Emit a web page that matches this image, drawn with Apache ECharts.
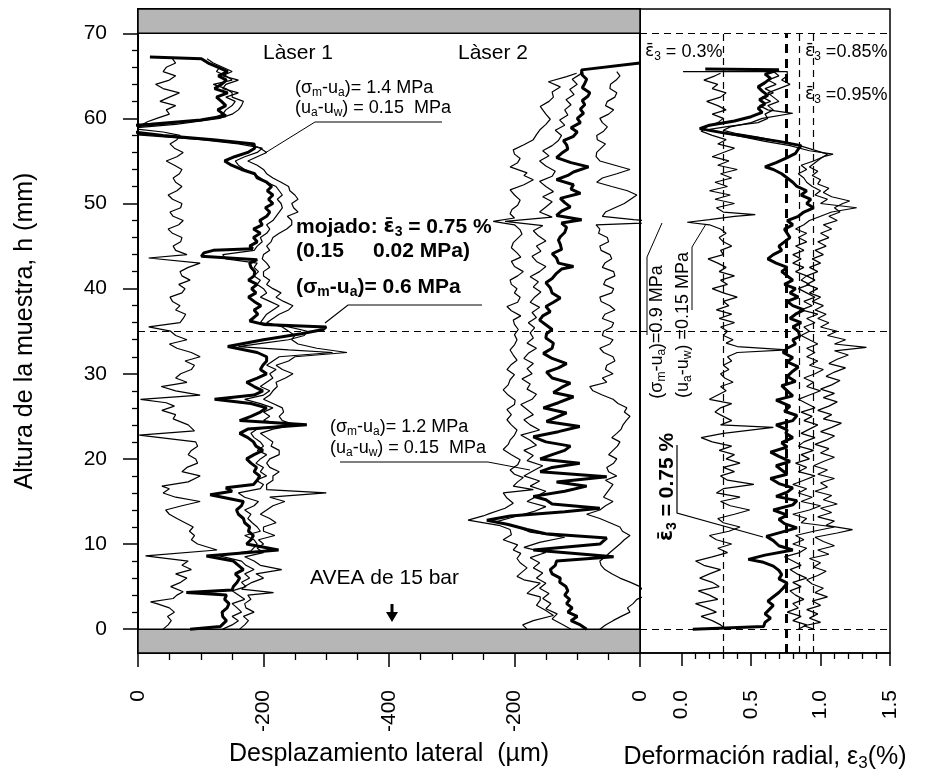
<!DOCTYPE html>
<html><head><meta charset="utf-8">
<script src="https://cdn.jsdelivr.net/npm/echarts@6/dist/echarts.min.js"></script>
<style>html,body{margin:0;padding:0;background:#fff}#c{width:925px;height:778px}</style>
</head><body><div id="c"></div>
<script>
// ---------- tick values / labels ----------
const heightTicks = [0,10,20,30,40,50,60,70];
const heightMinorTicks = [2,4,6,8,12,14,16,18,22,24,26,28,32,34,36,38,42,44,46,48,52,54,56,58,62,64,66,68];
const dispTickValues = [0,200,400,600,800];
const dispTickLabels = ['0','-200','-400','-200','0'];
const radTickValues = [0,0.5,1,1.5];
const radTickLabels = ['0.0','0.5','1.0','1.5'];
const radMinorTicks = [0.1,0.2,0.3,0.4,0.6,0.7,0.8,0.9,1.1,1.2,1.3,1.4];
const meanStrains = [0.3,0.75,0.85,0.95];   // dashed reference lines (%)
const specimenLevels = [0,35,70];          // mm

// ---------- Laser 1 : [height mm, displacement um] ----------
const laser1Thick = [[0,-83],[0.3,-131],[1,-141],[1.5,-135],[2,-134],[2.5,-142],[3,-145],[3.5,-138],[4,-141],[4.3,-77],[4.6,-150],[5,-152],[5.5,-158],[6,-162],[6.5,-155],[7,-168],[7.5,-160],[8,-152],[8.6,-109],[9.3,-224],[10,-173],[10.5,-180],[11,-184],[11.5,-176],[12,-178],[12.5,-170],[13,-168],[13.5,-160],[14,-157],[14.5,-165],[15,-168],[15.8,-115],[16.2,-150],[16.6,-140],[17,-184],[17.5,-190],[18,-194],[18.5,-185],[19,-189],[19.5,-180],[20,-173],[20.5,-185],[21,-199],[21.5,-188],[22,-184],[22.5,-175],[23,-162],[23.5,-175],[24,-269],[24.5,-162],[25,-180],[25.5,-195],[26,-205],[26.5,-180],[27,-122],[27.5,-185],[28,-199],[28.5,-185],[29,-173],[29.5,-190],[30,-205],[30.5,-195],[31,-199],[31.5,-205],[32,-205],[32.5,-190],[33.2,-143],[34,-200],[34.7,-260],[35.2,-295],[35.5,-300],[35.8,-200],[36.2,-178],[37,-191],[37.5,-185],[38,-196],[38.5,-185],[39,-176],[39.5,-188],[40,-181],[40.5,-190],[41,-176],[41.5,-185],[42,-186],[42.5,-180],[43,-178],[43.4,-190],[43.8,-101],[44.2,-105],[44.5,-120],[44.7,-183],[45,-178],[45.5,-190],[46,-184],[46.5,-195],[47,-184],[47.5,-198],[48,-194],[48.5,-205],[49,-210],[49.5,-203],[50,-215],[50.5,-208],[51,-215],[51.5,-206],[52,-213],[52.5,-205],[53,-190],[53.5,-186],[54,-165],[54.5,-149],[55,-138],[55.5,-154],[56,-175],[56.5,-186],[57,-185],[57.5,-120],[58,-40],[58.5,20],[58.9,63],[59.3,-20],[59.8,-100],[60.3,-140],[61,-127],[61.5,-140],[62,-133],[62.5,-125],[63,-143],[63.5,-122],[64,-133],[64.5,-141],[65,-128],[65.5,-143],[66,-128],[66.5,-112],[67,-101],[67.2,-19]];
const laser1Left = [[0,-40],[0.5,-48],[1,-53],[1.5,-47],[2,-58],[2.5,-50],[3,-30],[3.2,-20],[3.6,-56],[4,-62],[4.4,-72],[5,-52],[5.5,-68],[6,-78],[6.5,-60],[7,-85],[7.5,-70],[8,-80],[8.6,-12],[9.3,-126],[10,-95],[10.5,-85],[11,-90],[11.5,-82],[12,-88],[12.5,-75],[13,-62],[13.5,-50],[14,-44],[14.5,-70],[15,-99],[15.5,-60],[16,-40],[16.5,-50],[16.8,-38],[17.3,-80],[18,-99],[18.5,-70],[19,-78],[19.5,-95],[20,-92],[20.5,-80],[21,-85],[21.5,-95],[22,-92],[22.8,-2],[23.3,-90],[24,-80],[24.7,-56],[25.2,-60],[25.7,-38],[26.2,-58],[26.6,-45],[27,-4],[27.5,-99],[28,-60],[28.5,-37],[29,-78],[29.5,-60],[30,-68],[30.5,-85],[31,-90],[31.5,-75],[32,-99],[32.5,-85],[33,-62],[33.5,-50],[34,-78],[34.5,-60],[35,-52],[35.5,-17],[36,-67],[36.5,-72],[37,-76],[37.5,-60],[38,-67],[38.5,-55],[39,-51],[39.5,-70],[40,-75],[40.5,-65],[41,-83],[41.5,-70],[42,-67],[42.5,-80],[43,-99],[43.6,-17],[44,-78],[44.5,-60],[45,-56],[45.5,-68],[46,-70],[46.5,-55],[47,-48],[47.5,-65],[48,-72],[48.5,-56],[49,-51],[49.5,-68],[50,-70],[50.5,-55],[51,-48],[51.5,-62],[52,-70],[52.5,-60],[53,-56],[53.5,-66],[54,-70],[54.5,-58],[55,-45],[55.5,-62],[56,-72],[56.5,-58],[57,-51],[57.5,-62],[58,-67],[58.4,-40],[58.8,10],[59.2,-5],[59.6,-15],[60,-30],[60.5,-50],[61,-45],[61.5,-60],[62,-35],[62.5,-50],[63,-66],[63.5,-40],[64,-28],[64.5,-50],[65,-60],[65.5,-40],[66,-45],[66.5,-60],[67,-55]];
const laser1Right = [[0,-162],[0.5,-170],[1,-176],[1.5,-168],[2,-185],[2.5,-172],[3,-170],[3.5,-180],[4,-175],[4.3,-216],[4.7,-165],[5,-170],[5.5,-182],[6,-200],[6.5,-188],[7,-229],[7.5,-195],[8,-185],[8.5,-170],[9,-200],[9.5,-190],[10,-200],[10.5,-192],[11,-218],[11.5,-200],[12,-200],[12.5,-220],[13,-210],[13.5,-195],[14,-205],[14.5,-215],[15,-234],[15.5,-210],[16,-300],[16.4,-205],[17,-205],[17.5,-215],[18,-215],[18.5,-225],[19,-210],[19.5,-205],[20,-210],[20.5,-225],[21,-225],[21.5,-212],[22,-215],[22.5,-205],[23,-195],[23.5,-215],[24,-250],[24.5,-230],[25,-225],[25.5,-232],[26,-230],[26.5,-215],[27,-200],[27.5,-210],[28,-215],[28.5,-222],[29,-220],[29.5,-235],[30,-247],[30.5,-230],[31,-220],[31.5,-240],[32,-250],[32.5,-333],[33,-285],[33.5,-255],[34,-245],[34.5,-250],[35,-240],[35.5,-230],[36,-205],[36.5,-215],[37,-225],[37.5,-240],[38,-247],[38.5,-232],[39,-220],[39.5,-228],[40,-215],[40.5,-205],[41,-210],[41.5,-200],[42,-200],[42.5,-210],[43,-205],[43.5,-198],[44,-200],[44.5,-210],[45,-205],[45.5,-212],[46,-215],[46.5,-225],[47,-237],[47.5,-245],[48,-245],[48.5,-238],[49,-255],[49.5,-248],[50,-245],[50.5,-255],[51,-250],[51.5,-242],[52,-240],[52.5,-228],[53,-215],[53.5,-205],[54,-200],[54.5,-190],[55,-175],[55.5,-190],[56,-205],[56.5,-195],[57,-175],[57.5,-120],[58,-30],[58.4,60],[58.8,20],[59.3,-60],[60,-130],[60.5,-150],[61,-160],[61.5,-165],[62,-168],[62.5,-150],[63,-150],[63.5,-140],[64,-120],[64.5,-150],[65,-140],[65.5,-125],[66,-130],[66.5,-110],[67,-100]];
const laser1Mid = [[0,-135],[0.5,-150],[1,-160],[1.5,-150],[2,-165],[2.5,-158],[3,-150],[3.5,-170],[4,-160],[4.5,-150],[5,-172],[5.5,-165],[6,-178],[6.5,-170],[7,-185],[7.5,-172],[8,-165],[8.6,-130],[9.2,-180],[10,-190],[10.5,-185],[11,-170],[11.5,-195],[12,-190],[12.5,-182],[13,-175],[13.5,-180],[14,-170],[14.5,-185],[15,-192],[15.5,-170],[16,-160],[16.5,-195],[17,-200],[17.5,-188],[18,-205],[18.5,-195],[19,-200],[19.5,-188],[20,-195],[20.5,-205],[21,-190],[21.5,-200],[22,-195],[22.5,-185],[23,-180],[23.5,-190],[24,-240],[24.5,-200],[25,-210],[25.5,-200],[26,-215],[26.5,-195],[27,-170],[27.5,-200],[28,-210],[28.5,-195],[29,-205],[29.5,-215],[30,-210],[30.5,-220],[31,-205],[31.5,-215],[32,-225],[32.5,-310],[32.8,-240],[33.2,-160],[33.6,-200],[34,-240],[34.5,-265],[35,-270],[35.5,-240],[36,-195],[36.5,-200],[37,-205],[37.5,-215],[38,-225],[38.5,-210],[39,-195],[39.5,-205],[40,-200],[40.5,-190],[41,-195],[41.5,-185],[42,-192],[42.5,-185],[43,-190],[43.5,-140],[44,-135],[44.5,-185],[45,-190],[45.5,-198],[46,-195],[46.5,-205],[47,-210],[47.5,-205],[48,-215],[48.5,-220],[49,-225],[49.5,-230],[50,-228],[50.5,-222],[51,-230],[51.5,-225],[52,-220],[52.5,-205],[53,-195],[53.5,-185],[54,-170],[54.5,-160],[55,-155],[55.5,-170],[56,-190],[56.5,-198],[57,-160],[57.5,-100],[58,-10],[58.4,82],[58.8,40],[59.3,-40],[60,-120],[60.5,-135],[61,-140],[61.5,-150],[62,-155],[62.5,-140],[63,-160],[63.5,-135],[64,-140],[64.5,-160],[65,-135],[65.5,-150],[66,-135],[66.5,-120],[67,-110]];

// ---------- Laser 2 : [height mm, displacement um] ----------
const laser2Right = [[0,-64],[0.5,-55],[1,-43],[1.5,-30],[2,-16],[2.5,-20],[3,-11],[3.5,-5],[4,10],[4.5,5],[5,0],[5.5,-15],[6,-32],[6.5,-45],[7,-56],[7.5,-62],[8,-64],[8.5,-55],[9,-48],[9.5,-40],[10,-32],[10.5,-25],[11,-16],[11.5,-28],[12,-32],[12.5,-48],[13,-64],[13.5,-85],[14,-64],[14.5,-55],[15,-43],[15.5,-58],[16,-53],[16.5,-48],[17,-43],[17.5,-55],[18,-37],[18.5,-50],[19,-53],[19.5,-42],[20,-37],[20.5,-50],[21,-43],[21.5,-36],[22,-32],[22.5,-45],[23,-37],[23.5,-30],[24,-27],[24.5,-22],[25,-16],[25.5,-25],[26,-21],[26.5,-35],[27,-43],[27.5,-60],[28,-75],[28.5,-80],[29,-53],[29.5,-60],[30,-43],[30.5,-55],[31,-53],[31.5,-40],[32,-43],[32.5,-58],[33,-64],[33.5,-48],[34,-43],[34.5,-60],[35,-58],[35.5,-45],[36,-42],[36.5,-60],[37,-56],[37.5,-40],[38,-48],[38.5,-62],[39,-64],[39.5,-45],[40,-42],[40.5,-58],[41,-55],[41.5,-40],[42,-42],[42.5,-60],[43,-56],[43.5,-45],[44,-48],[44.5,-62],[45,-64],[45.5,-50],[46,-52],[46.5,-66],[47,-64],[47.5,-70],[47.8,40],[48.1,-10],[48.5,-60],[49,-55],[49.5,-40],[50,-25],[50.5,-15],[51,-5],[51.5,-20],[52,-45],[52.5,-69],[53,-60],[53.5,-37],[54,-16],[54.5,-40],[55,-64],[55.5,-70],[56,-69],[56.5,-62],[57,-55],[57.5,-68],[58,-69],[58.5,-58],[59,-52],[59.5,-60],[60,-64],[60.5,-50],[61,-42],[61.5,-55],[62,-52],[62.5,-40],[63,-37],[63.5,-48],[64,-47],[64.5,-38],[65,-32],[65.5,-37]];
const laser2Thick = [[0,-85],[0.5,-95],[1,-110],[1.5,-100],[2,-115],[2.5,-108],[3,-117],[3.5,-112],[4,-120],[4.5,-115],[5,-118],[5.5,-128],[6,-127],[6.5,-140],[7,-143],[7.5,-135],[8,-133],[8.5,-42],[9.3,-170],[10,-64],[10.7,-53],[11.2,-150],[11.7,-180],[12.3,-210],[12.8,-244],[13.3,-207],[13.8,-120],[14.2,-64],[14.7,-140],[15.2,-150],[15.6,-170],[16.2,-120],[16.8,-85],[17.3,-133],[17.9,-53],[18.5,-159],[19,-140],[19.5,-96],[20,-159],[20.5,-140],[21,-120],[21.5,-111],[22,-150],[22.6,-170],[23.2,-130],[23.8,-96],[24.4,-149],[25,-130],[25.4,-117],[26,-154],[26.6,-130],[27.3,-106],[27.8,-138],[28.4,-125],[28.9,-111],[29.5,-140],[30.2,-149],[30.7,-130],[31.2,-117],[31.8,-140],[32.4,-154],[33,-140],[33.6,-138],[34.2,-150],[34.7,-149],[35.2,-140],[35.7,-149],[36.3,-160],[36.8,-155],[37.3,-143],[37.9,-150],[38.4,-138],[38.9,-127],[39.5,-140],[40.1,-143],[40.7,-150],[41.2,-140],[41.8,-133],[42.3,-125],[42.6,-106],[43,-130],[43.6,-133],[44.1,-140],[44.6,-125],[45.2,-127],[45.7,-130],[46.1,-127],[46.6,-120],[47.2,-117],[47.7,-125],[48.1,-93],[48.6,-133],[49.1,-125],[49.6,-111],[50.1,-120],[50.6,-127],[51.2,-95],[51.7,-110],[52.2,-106],[52.8,-133],[53.3,-115],[53.7,-106],[54.3,-82],[54.8,-110],[55.4,-133],[55.9,-125],[56.4,-115],[56.9,-117],[57.4,-122],[57.9,-106],[58.4,-100],[58.9,-110],[59.5,-95],[60,-100],[60.6,-90],[61.1,-95],[61.6,-88],[62.1,-92],[62.6,-83],[63,-80],[63.6,-92],[64.1,-88],[64.6,-85],[65.1,-92],[65.7,-93],[66.5,0]];
const laser2Left = [[0,-180],[0.5,-187],[1,-170],[1.6,-138],[2.2,-150],[2.8,-165],[3.4,-159],[3.8,-159],[4.2,-180],[4.7,-172],[5.4,-159],[5.8,-185],[6.2,-196],[6.7,-188],[7.2,-180],[7.8,-191],[8.3,-196],[8.9,-190],[9.3,-202],[9.9,-195],[10.5,-218],[11.1,-205],[11.7,-207],[12.2,-225],[12.8,-274],[13.3,-250],[13.6,-239],[14.2,-215],[14.8,-202],[15.4,-212],[16,-218],[16.4,-170],[16.8,-202],[17.3,-195],[17.8,-186],[18.2,-200],[18.7,-207],[19.3,-195],[19.9,-191],[20.5,-205],[21.1,-218],[21.7,-210],[22.2,-207],[22.8,-200],[23.4,-196],[24,-205],[24.6,-212],[25.2,-205],[25.8,-212],[26.4,-200],[26.9,-199],[27.5,-210],[28.1,-218],[28.7,-210],[29.3,-207],[29.9,-200],[30.5,-212],[31.1,-205],[31.6,-196],[32.2,-202],[32.8,-207],[33.4,-200],[34,-196],[34.6,-200],[35.2,-194],[35.8,-200],[36.3,-202],[36.8,-190],[37.4,-205],[37.9,-212],[38.4,-195],[39,-191],[39.5,-200],[40,-196],[40.5,-205],[41,-207],[41.5,-195],[42,-186],[42.6,-200],[43.2,-205],[43.7,-190],[44.2,-196],[44.8,-205],[45.4,-202],[45.9,-195],[46.4,-188],[46.9,-191],[47.5,-200],[47.9,-234],[48.3,-200],[48.8,-207],[49.3,-204],[49.8,-195],[50.4,-191],[51,-200],[51.6,-207],[52.2,-185],[52.8,-170],[53.3,-185],[53.6,-180],[54.3,-207],[54.8,-195],[55.3,-191],[55.8,-200],[56.3,-202],[56.9,-185],[57.5,-170],[58.1,-165],[58.7,-159],[59.3,-150],[59.9,-143],[60.5,-150],[61,-155],[61.4,-159],[62,-145],[62.5,-138],[63.1,-140],[63.7,-127],[64.3,-146],[64.9,-117],[65.3,-101]];
const laser2Mid = [[0,-110],[0.6,-125],[1.2,-140],[1.8,-132],[2.4,-150],[3,-142],[3.6,-155],[4.2,-145],[4.8,-160],[5.4,-150],[6,-165],[6.6,-155],[7.2,-170],[7.8,-160],[8.4,-175],[9,-150],[9.6,-185],[10.2,-160],[10.8,-120],[11.4,-175],[12,-195],[12.6,-230],[13.2,-200],[13.8,-170],[14.4,-150],[15,-180],[15.6,-165],[16.2,-150],[16.8,-175],[17.4,-160],[18,-185],[18.6,-170],[19.2,-155],[19.8,-180],[20.4,-170],[21,-185],[21.6,-165],[22.2,-175],[22.8,-190],[23.4,-160],[24,-175],[24.6,-185],[25.2,-170],[25.8,-180],[26.4,-190],[27,-172],[27.6,-165],[28.2,-180],[28.8,-175],[29.4,-188],[30,-172],[30.6,-180],[31.2,-170],[31.8,-185],[32.4,-178],[33,-165],[33.6,-180],[34.2,-170],[34.8,-175],[35.4,-168],[36,-178],[36.6,-165],[37.2,-172],[37.8,-160],[38.4,-175],[39,-168],[39.6,-158],[40.2,-170],[40.8,-162],[41.4,-175],[42,-160],[42.6,-150],[43.2,-165],[43.8,-172],[44.4,-158],[45,-165],[45.6,-150],[46.2,-162],[46.8,-170],[47.4,-155],[47.9,-215],[48.4,-140],[49,-160],[49.6,-150],[50.2,-140],[50.8,-155],[51.4,-138],[52,-150],[52.6,-160],[53.2,-140],[53.8,-135],[54.4,-150],[55,-160],[55.6,-145],[56.2,-155],[56.8,-140],[57.4,-130],[58,-125],[58.6,-135],[59.2,-120],[59.8,-128],[60.4,-115],[61,-120],[61.6,-110],[62.2,-118],[62.8,-105],[63.4,-112],[64,-100],[64.6,-108],[65.2,-95],[65.7,-93]];

// ---------- Radial strain : [height mm, strain %] ----------
const radialLeft = [[0,0.32],[0.5,0.28],[1,0.22],[1.5,0.14],[2,0.25],[2.5,0.18],[3,0.1],[3.5,0.26],[4,0.2],[4.5,0.12],[5,0.27],[5.5,0.22],[6,0.13],[6.5,0.2],[7,0.28],[7.5,0.16],[8,0.1],[8.5,0.22],[9,0.33],[9.5,0.26],[10,0.36],[10.5,0.25],[11,0.2],[11.5,0.34],[12,0.42],[12.5,0.3],[13,0.26],[13.5,0.38],[14,0.49],[14.5,0.35],[15,0.28],[15.5,0.42],[16,0.25],[16.5,0.3],[17,0.52],[17.5,0.33],[18,0.28],[18.5,0.38],[19,0.3],[19.5,0.42],[20,0.32],[20.5,0.38],[21,0.27],[21.5,0.36],[22,0.22],[22.5,0.14],[23,0.3],[23.7,0.66],[24,0.28],[24.5,0.36],[25,0.3],[25.5,0.24],[26,0.28],[26.5,0.36],[27,0.2],[27.5,0.26],[28,0.32],[28.5,0.28],[29,0.37],[29.5,0.31],[30,0.28],[30.5,0.34],[31,0.3],[31.5,0.36],[32,0.33],[32.5,0.4],[32.8,0.76],[33.2,0.4],[33.6,0.32],[34,0.37],[34.5,0.3],[35,0.33],[35.5,0.28],[36,0.38],[36.5,0.27],[37,0.36],[37.5,0.25],[38,0.34],[38.5,0.3],[39,0.4],[39.5,0.3],[40,0.22],[40.5,0.33],[41,0.28],[41.5,0.38],[42,0.27],[42.5,0.32],[43,0.26],[43.5,0.19],[44,0.3],[44.5,0.28],[45,0.36],[45.5,0.3],[46,0.27],[46.5,0.32],[47,0.28],[47.5,0.2],[47.8,0.04],[48.1,0.2],[48.5,0.38],[48.7,0.53],[49,0.3],[49.5,0.25],[50,0.38],[50.5,0.24],[51,0.35],[51.5,0.2],[52,0.33],[52.5,0.24],[53,0.36],[53.5,0.28],[54,0.4],[54.5,0.26],[55,0.34],[55.5,0.22],[56,0.3],[56.5,0.38],[57,0.26],[57.5,0.32],[58,0.22],[58.5,0.14],[59,0.18],[59.5,0.26],[60,0.3],[60.5,0.22],[61,0.32],[61.5,0.26],[62,0.18],[62.5,0.28],[63,0.32],[63.5,0.22],[64,0.26],[64.5,0.16],[65,0.24],[65.3,0.28]];
const radialThick = [[0,0.08],[0.3,0.59],[0.8,0.6],[1.3,0.64],[1.8,0.6],[2.3,0.63],[2.8,0.66],[3.3,0.62],[3.8,0.66],[4.3,0.7],[4.8,0.73],[5.4,0.76],[5.9,0.7],[6.4,0.72],[6.9,0.7],[7.4,0.66],[7.9,0.58],[8.2,0.48],[8.7,0.6],[9.3,0.8],[9.8,0.7],[10.4,0.66],[10.9,0.61],[11.4,0.72],[11.9,0.83],[12.4,0.74],[12.9,0.7],[13.4,0.76],[14,0.66],[14.6,0.8],[15.1,0.83],[15.6,0.68],[16.1,0.76],[16.6,0.8],[17.1,0.7],[17.7,0.64],[18.2,0.76],[18.7,0.72],[19.2,0.68],[19.7,0.78],[20.3,0.7],[20.8,0.64],[21.4,0.76],[21.9,0.72],[22.5,0.8],[23,0.75],[23.4,0.76],[24,0.68],[24.5,0.8],[25.1,0.83],[25.6,0.74],[26.2,0.78],[26.9,0.68],[27.4,0.8],[28,0.76],[28.6,0.72],[29.1,0.82],[29.7,0.76],[30.3,0.8],[30.8,0.84],[31.4,0.76],[31.9,0.8],[32.5,0.73],[33,0.76],[33.5,0.82],[34,0.8],[34.4,0.85],[35,0.84],[35.5,0.8],[36,0.86],[36.5,0.78],[37,0.82],[37.5,0.88],[38,0.8],[38.5,0.76],[39,0.84],[39.5,0.78],[40,0.82],[40.5,0.74],[41,0.8],[41.5,0.76],[42,0.72],[42.5,0.76],[43,0.68],[43.5,0.62],[44,0.66],[44.5,0.72],[45,0.7],[45.5,0.74],[46,0.78],[46.5,0.76],[47,0.74],[47.5,0.8],[48,0.76],[48.5,0.84],[49,0.88],[49.5,0.95],[50,0.9],[50.5,0.93],[51,0.86],[51.5,0.9],[52,0.83],[52.5,0.8],[53,0.76],[53.5,0.72],[54,0.66],[54.3,0.6],[54.8,0.68],[55.4,0.76],[55.9,0.82],[56.4,0.84],[56.8,0.86],[57.3,0.7],[57.8,0.5],[58.3,0.3],[58.8,0.13],[59.2,0.2],[59.7,0.38],[60.2,0.5],[60.7,0.58],[61.2,0.55],[61.7,0.6],[62.2,0.56],[62.7,0.62],[63.2,0.58],[63.7,0.55],[64.2,0.6],[64.7,0.64],[65.2,0.6],[65.7,0.7],[65.8,0.17]];
const radialMid = [[0,0.84],[0.5,0.9],[1,0.8],[1.5,0.86],[2,0.76],[2.5,0.84],[3,0.8],[3.5,0.88],[4,0.82],[4.5,0.78],[5,0.86],[5.5,0.8],[6,0.9],[6.5,0.83],[7,0.78],[7.5,0.86],[8,0.8],[8.5,0.74],[9,0.85],[9.5,0.9],[10,0.8],[10.5,0.88],[11,0.82],[11.5,0.95],[12,1.1],[12.5,0.86],[13,0.9],[13.5,0.8],[14,0.92],[14.5,1.0],[15,0.86],[15.5,0.94],[16,0.84],[16.5,0.9],[17,0.8],[17.5,0.88],[18,0.96],[18.5,0.84],[19,0.9],[19.5,0.82],[20,0.92],[20.5,0.86],[21,0.95],[21.5,0.84],[22,0.88],[22.5,0.96],[23,0.86],[23.5,0.92],[24,0.98],[24.5,0.88],[25,0.94],[25.5,0.86],[26,0.96],[26.5,0.9],[27,0.84],[27.5,0.92],[28,1.0],[28.5,0.9],[29,0.95],[29.5,0.88],[30,0.96],[30.5,1.02],[31,0.92],[31.5,0.98],[32,0.9],[32.5,0.96],[33,0.9],[33.5,0.98],[34,0.92],[34.5,0.86],[35,0.92],[35.5,0.88],[36,0.96],[36.5,0.9],[37,0.98],[37.5,0.86],[38,0.94],[38.5,0.88],[39,0.96],[39.5,0.9],[40,0.84],[40.5,0.92],[41,0.86],[41.5,0.9],[42,0.82],[42.5,0.88],[43,0.8],[43.5,0.86],[44,0.8],[44.5,0.88],[45,0.82],[45.5,0.9],[46,0.84],[46.5,0.9],[47,0.82],[47.5,0.88],[48,0.92],[48.5,1.0],[49,1.08],[49.5,1.26],[50,1.0],[50.5,1.05],[51,0.96],[51.5,1.0],[52,0.94],[52.5,0.9],[53,0.88],[53.5,0.84],[54,0.9],[54.5,0.86],[55,0.95],[55.5,1.02],[55.8,1.09],[56.2,0.92],[56.8,0.78],[57.3,0.6],[57.8,0.45],[58.3,0.3],[58.7,0.2],[59.1,0.35],[59.5,0.55],[60,0.62],[60.5,0.6],[61,0.66],[61.5,0.62],[62,0.7],[62.5,0.66],[63,0.62],[63.5,0.7],[64,0.78],[64.5,0.72],[65,0.76],[65.5,0.76],[65.5,0.01]];
const radialRight = [[0,0.95],[0.4,0.88],[0.8,1.0],[1.3,0.92],[1.8,0.98],[2.3,0.9],[2.8,1.0],[3.3,0.94],[3.8,1.05],[4.3,0.96],[4.8,1.02],[5.3,0.94],[5.8,0.9],[6.3,0.98],[6.8,1.04],[7.3,0.95],[7.8,1.0],[8.3,0.92],[8.8,1.06],[9.3,0.98],[9.8,1.1],[10.3,1.02],[10.8,0.96],[11.3,1.12],[11.7,1.23],[12.2,1.04],[12.7,1.1],[13.2,0.98],[13.7,1.08],[14.2,1.0],[14.7,1.12],[15.2,1.02],[15.7,1.08],[16.2,0.96],[16.7,1.05],[17.2,1.0],[17.7,1.1],[18.2,0.98],[18.7,1.05],[19.2,0.95],[19.7,1.02],[20.2,1.1],[20.7,1.0],[21.2,1.06],[21.7,0.96],[22.2,1.04],[22.7,1.1],[23.2,1.0],[23.7,1.08],[24.2,1.15],[24.7,1.02],[25.2,1.08],[25.7,0.98],[26.2,1.06],[26.7,1.12],[27.2,1.02],[27.7,1.1],[28.2,1.0],[28.7,1.08],[29.2,1.14],[29.7,1.04],[30.2,1.1],[30.7,1.18],[31.2,1.06],[31.7,1.12],[32.2,1.2],[32.7,1.1],[33.1,1.33],[33.5,1.1],[34,1.18],[34.5,1.05],[35,1.12],[35.5,1.0],[36,1.06],[36.5,0.98],[37,1.04],[37.5,0.96],[38,1.02],[38.5,0.94],[39,1.0],[39.5,0.92],[40,0.98],[40.5,0.9],[41,0.96],[41.5,0.9],[42,0.98],[42.5,0.92],[43,1.0],[43.5,0.94],[44,1.02],[44.5,0.96],[45,1.04],[45.5,0.98],[46,1.06],[46.5,1.0],[47,1.08],[47.5,1.02],[48,1.12],[48.5,1.06],[49,1.14],[49.5,1.1],[50,1.16],[50.3,1.21],[50.8,1.08],[51.3,1.02],[51.8,1.06],[52.3,0.98],[52.8,1.0],[53.3,0.94],[53.8,0.98],[54.3,0.92],[54.8,0.96],[55.3,1.0],[55.8,1.05],[56.3,0.95],[56.8,0.85],[57.3,0.7],[57.8,0.55],[58.2,0.4],[58.6,0.3],[59,0.35],[59.5,0.5],[60,0.58],[60.6,0.8],[61,0.62],[61.5,0.56],[62,0.64],[62.5,0.58],[63,0.66],[63.5,0.6],[64,0.68],[64.5,0.62],[65,0.7],[65.5,0.66]];

// ---------- chart ----------
const FONT = 'Liberation Sans, Arial, Helvetica, sans-serif';
const GREEKFONT = 'DejaVu Sans, Liberation Sans, sans-serif';
const BLACK = '#000';
const YMIN = -2.8, YMAX = 72.85;
const L2_OFFSET = 800; // laser 2 zero sits at right end of the shared displacement axis

const toL1 = d => d.map(p => [-p[1], p[0]]);
const toL2 = d => d.map(p => [L2_OFFSET + p[1], p[0]]);
const toR = d => d.map(p => [p[1], p[0]]);

function lineSeries(data, x, y, w, z) {
  return { type: 'line', xAxisIndex: x, yAxisIndex: y, data: data, symbol: 'none', showSymbol: false,
    clip: false, silent: true, z: z || 3, animation: false,
    lineStyle: { color: BLACK, width: w } };
}

const sub = { fontSize: 12, lineHeight: 12, verticalAlign: 'bottom', fill: BLACK, fontFamily: FONT };
const nrm = { fontSize: 18, lineHeight: 22, verticalAlign: 'middle', fill: BLACK, fontFamily: FONT };
const eps = { fontSize: 17, lineHeight: 22, verticalAlign: 'middle', fill: BLACK, fontFamily: GREEKFONT };
const bold = { fontSize: 21, lineHeight: 24, fontWeight: 'bold', verticalAlign: 'middle', fill: BLACK, fontFamily: FONT };
const boldEps = { fontSize: 20, lineHeight: 24, fontWeight: 'bold', verticalAlign: 'middle', fill: BLACK, fontFamily: GREEKFONT };
const boldSub = { fontSize: 14, lineHeight: 14, fontWeight: 'bold', verticalAlign: 'bottom', fill: BLACK, fontFamily: FONT };
const richSmall = { n: nrm, s: sub, e: eps };
const richBold = { b: bold, bs: boldSub, be: boldEps };
const EPS = '\u03B5\u0304';

function txt(text, x, y, rich, opts) {
  return Object.assign({ type: 'text', x: x, y: y, silent: true, z: 50,
    style: { text: text, rich: rich, align: 'left', verticalAlign: 'middle', fill: BLACK } }, opts || {});
}
function pline(pts, w) {
  return { type: 'polyline', silent: true, z: 50, shape: { points: pts }, style: { stroke: BLACK, lineWidth: w || 1, fill: null } };
}

const dashThin = { color: BLACK, width: 1.2, type: [7, 5] };

const option = {
  animation: false,
  backgroundColor: '#fff',
  grid: [
    { left: 138, top: 9, width: 502, height: 644, show: true, borderColor: BLACK, borderWidth: 2, backgroundColor: 'transparent', containLabel: false },
    { left: 640, top: 9, width: 250, height: 644, show: true, borderColor: BLACK, borderWidth: 1.5, backgroundColor: 'transparent', containLabel: false }
  ],
  xAxis: [
    { gridIndex: 0, type: 'value', min: 0, max: 800, interval: 200, position: 'bottom',
      axisLine: { show: true, onZero: false, lineStyle: { color: BLACK, width: 2 } },
      axisTick: { show: true, length: 14, lineStyle: { color: BLACK, width: 1.5 } },
      minorTick: { show: true, splitNumber: 4, length: 7, lineStyle: { color: BLACK, width: 1.3 } },
      splitLine: { show: false }, minorSplitLine: { show: false },
      axisLabel: { rotate: 90, margin: 37, fontSize: 21, color: BLACK, fontFamily: FONT,
        formatter: v => dispTickLabels[dispTickValues.indexOf(v)] ?? '' },
      name: 'Desplazamiento lateral  (\u00B5m)', nameLocation: 'middle', nameGap: 89,
      nameTextStyle: { fontSize: 25, color: BLACK, fontFamily: FONT } },
    { gridIndex: 1, type: 'value', min: -0.3, max: 1.5, position: 'bottom',
      axisLine: { show: true, onZero: false, lineStyle: { color: BLACK, width: 1.5 } },
      axisTick: { show: true, length: 13, customValues: radTickValues, lineStyle: { color: BLACK, width: 1.5 } },
      splitLine: { show: false },
      axisLabel: { customValues: radTickValues, rotate: 90, margin: 37, fontSize: 21, color: BLACK, fontFamily: FONT,
        formatter: v => radTickLabels[radTickValues.indexOf(v)] ?? '' },
      name: '{n|Deformación radial, \u03B5}{s|3}{n|(%)}', nameLocation: 'middle', nameGap: 89,
      nameTextStyle: { fontSize: 25, color: BLACK, fontFamily: FONT,
        rich: { n: { fontSize: 25, color: BLACK, fontFamily: FONT, lineHeight: 30, verticalAlign: 'middle' },
                s: { fontSize: 17, color: BLACK, fontFamily: FONT, lineHeight: 17, verticalAlign: 'bottom' } } } },
    { gridIndex: 1, type: 'value', min: -0.3, max: 1.5, position: 'bottom', offset: 0,
      axisLine: { show: false, onZero: false },
      axisTick: { show: true, length: 6, customValues: radMinorTicks, lineStyle: { color: BLACK, width: 1.3 } },
      axisLabel: { show: false }, splitLine: { show: false } }
  ],
  yAxis: [
    { gridIndex: 0, type: 'value', min: YMIN, max: YMAX, position: 'left',
      axisLine: { show: false, onZero: false }, splitLine: { show: false },
      axisTick: { show: true, length: 15, customValues: heightTicks, lineStyle: { color: BLACK, width: 1.5 } },
      axisLabel: { customValues: heightTicks, fontSize: 21, color: BLACK, margin: 31, fontFamily: FONT },
      name: 'Altura de la muestra, h (mm)', nameLocation: 'middle', nameGap: 100,
      nameTextStyle: { fontSize: 25, color: BLACK, fontFamily: FONT } },
    { gridIndex: 0, type: 'value', min: YMIN, max: YMAX, position: 'left', offset: 0,
      axisLine: { show: false, onZero: false }, splitLine: { show: false }, axisLabel: { show: false },
      axisTick: { show: true, length: 6, customValues: heightMinorTicks, lineStyle: { color: BLACK, width: 1.3 } } },
    { gridIndex: 1, type: 'value', min: YMIN, max: YMAX, show: false, axisLine: { onZero: false } }
  ],
  series: [
    Object.assign(lineSeries(toL1(laser1Left), 0, 0, 1.2), {
      markArea: { silent: true, itemStyle: { color: '#b6b6b6', borderColor: BLACK, borderWidth: 1.5 },
        data: [[{ coord: [0, YMIN] }, { coord: [800, specimenLevels[0]] }],
               [{ coord: [0, specimenLevels[2]] }, { coord: [800, YMAX] }]] },
      markLine: { silent: true, symbol: 'none', label: { show: false }, lineStyle: dashThin,
        data: [{ yAxis: specimenLevels[1] }] } }),
    lineSeries(toL1(laser1Right), 0, 0, 1.2),
    lineSeries(toL1(laser1Mid), 0, 0, 1.2),
    lineSeries(toL1(laser1Thick), 0, 0, 3, 4),
    lineSeries(toL2(laser2Right), 0, 0, 1.2),
    lineSeries(toL2(laser2Left), 0, 0, 1.2),
    lineSeries(toL2(laser2Mid), 0, 0, 1.2),
    lineSeries(toL2(laser2Thick), 0, 0, 3, 4),
    Object.assign(lineSeries(toR(radialLeft), 1, 2, 1.2), {
      markLine: { silent: true, symbol: 'none', label: { show: false }, lineStyle: dashThin,
        data: [
          { yAxis: specimenLevels[0] }, { yAxis: specimenLevels[1] }, { yAxis: specimenLevels[2] },
          [{ coord: [meanStrains[0], YMIN] }, { coord: [meanStrains[0], specimenLevels[2]] }],
          [{ coord: [meanStrains[2], YMIN] }, { coord: [meanStrains[2], specimenLevels[2]] }],
          [{ coord: [meanStrains[3], YMIN] }, { coord: [meanStrains[3], specimenLevels[2]] }],
          [{ coord: [meanStrains[1], YMIN], lineStyle: { width: 3, type: [9, 6] } }, { coord: [meanStrains[1], specimenLevels[2]] }]
        ] } }),
    lineSeries(toR(radialMid), 1, 2, 1.2),
    lineSeries(toR(radialRight), 1, 2, 1.2),
    lineSeries(toR(radialThick), 1, 2, 3, 4)
  ],
  graphic: [
    txt('', 298, 53, null, { style: { text: 'Làser 1', font: '21px ' + FONT, align: 'center', verticalAlign: 'middle', fill: BLACK } }),
    txt('', 493, 53, null, { style: { text: 'Làser 2', font: '21px ' + FONT, align: 'center', verticalAlign: 'middle', fill: BLACK } }),
    txt('{n|(\u03C3}{s|m}{n|-u}{s|a}{n|)= 1.4 MPa}', 295, 88, richSmall),
    txt('{n|(u}{s|a}{n|-u}{s|w}{n|) = 0.15  MPa}', 295, 108, richSmall),
    pline([[442,122],[315,122],[265,153]], 1),
    txt('{b|mojado: }{be|' + EPS + '}{bs|3}{b| = 0.75 %}', 296, 227, richBold),
    txt('{b|(0.15     0.02 MPa)}', 296, 251, richBold),
    txt('{b|(\u03C3}{bs|m}{b|-u}{bs|a}{b|)= 0.6 MPa}', 296, 287, richBold),
    pline([[482,305],[348,305],[325,323]], 1.2),
    txt('{n|(\u03C3}{s|m}{n|-u}{s|a}{n|)= 1.2 MPa}', 330, 427, richSmall),
    txt('{n|(u}{s|a}{n|-u}{s|w}{n|) = 0.15  MPa}', 330, 448, richSmall),
    pline([[340,462],[488,462],[530,470]], 1),
    txt('', 310, 578, null, { style: { text: 'AVEA de 15 bar', font: '21px ' + FONT, align: 'left', verticalAlign: 'middle', fill: BLACK } }),
    { type: 'rect', silent: true, z: 50, shape: { x: 390.5, y: 604, width: 3, height: 10 }, style: { fill: BLACK } },
    { type: 'polygon', silent: true, z: 50, shape: { points: [[386,612],[398,612],[392,622]] }, style: { fill: BLACK } },
    txt('{e|' + EPS + '}{s|3}{n| = 0.3%}', 645, 52, richSmall),
    txt('{e|' + EPS + '}{s|3}{n| =0.85%}', 805, 52, richSmall),
    txt('{e|' + EPS + '}{s|3}{n| =0.95%}', 805, 95, richSmall),
    txt('', 657, 332, richSmall, { rotation: Math.PI / 2, style: { text: '{n|(\u03C3}{s|m}{n|-u}{s|a}{n|)=0.9 MPa}', rich: richSmall, align: 'center', verticalAlign: 'middle' } }),
    txt('', 683, 325, richSmall, { rotation: Math.PI / 2, style: { text: '{n|(u}{s|a}{n|-u}{s|w}{n|) =0.15 MPa}', rich: richSmall, align: 'center', verticalAlign: 'middle' } }),
    pline([[647,335],[647,257],[662,223]], 1),
    pline([[692,310],[692,247],[706,224]], 1),
    txt('', 667, 487, richBold, { rotation: Math.PI / 2, style: { text: '{be|' + EPS + '}{bs|3}{b| = 0.75 %}', rich: richBold, align: 'center', verticalAlign: 'middle' } }),
    pline([[677,445],[677,513],[763,537]], 1.2)
  ]
};

const chart = echarts.init(document.getElementById('c'), null, { renderer: 'canvas' });
chart.setOption(option);
</script></body></html>
